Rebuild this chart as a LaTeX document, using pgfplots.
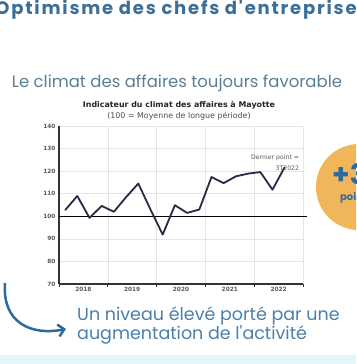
\documentclass[border=0pt]{standalone}
\usepackage{fontspec}
\setmainfont{DejaVu Sans}
\newfontfamily\ral{Poppins}
\newfontfamily\ralw{Poppins}[LetterSpace=10]
\usepackage{pgfplots}
\pgfplotsset{compat=1.18}
\usetikzlibrary{arrows.meta}
\definecolor{titleblue}{HTML}{3C6F98}
\definecolor{subgray}{HTML}{5A7F95}
\definecolor{botblue}{HTML}{4B80A8}
\definecolor{arrowblue}{HTML}{2E6A9A}
\definecolor{orangec}{HTML}{F2B65A}
\definecolor{navy}{HTML}{262B48}
\definecolor{band}{HTML}{E6F7FB}
\definecolor{plusblue}{HTML}{2D6AA3}
\pgfplotstableread{
x y
0.5 102.7
1.5 109
2.5 99.3
3.5 104.6
4.5 102
5.5 108.5
6.5 114.5
7.5 103
8.5 91.9
9.5 104.9
10.5 101.5
11.5 103
12.5 117.4
13.5 114.7
14.5 117.7
15.5 118.9
16.5 119.6
17.5 111.8
18.5 121.8
}\climat
\begin{document}
\begin{tikzpicture}[x=1pt,y=1pt]
\useasboundingbox (0,0) rectangle (356,364);
\clip (0,0) rectangle (356,364);
\fill[white] (0,0) rectangle (356,364);
\fill[band] (0,0) rectangle (356,9);
\fill[orangec] (359,177) circle (43);
\node[text=plusblue, font=\ral\bfseries\fontsize{28}{28}\selectfont, anchor=base west, inner sep=0] at (332,179) {+3};
\node[text=plusblue, font=\ral\bfseries\fontsize{10}{10}\selectfont, anchor=base west, inner sep=0] at (340,163) {points};
\node[text=titleblue, font=\ralw\bfseries\fontsize{18}{18}\selectfont, anchor=base, inner sep=0] at (176,349) {Optimisme des chefs d'entreprise};
\node[text=subgray, font=\ral\fontsize{16.5}{16.5}\selectfont, anchor=base, inner sep=0] at (177,276) {Le climat des affaires toujours favorable};
\node[text=black!85, font=\bfseries\fontsize{7.9}{7.9}\selectfont, anchor=base, inner sep=0] at (179,256) {Indicateur du climat des affaires à Mayotte};
\node[text=black!70, font=\fontsize{7.9}{7.9}\selectfont, anchor=base, inner sep=0] at (179,245) {(100 = Moyenne de longue période)};
\node[text=botblue, font=\ral\fontsize{17.5}{17.5}\selectfont, anchor=base west, inner sep=0] at (77,43) {Un niveau élevé porté par une};
\node[text=botblue, font=\ral\fontsize{17.5}{17.5}\selectfont, anchor=base west, inner sep=0] at (77,24) {augmentation de l'activité};
\draw[arrowblue, line width=2.5, -{Straight Barb[length=6,width=12]}] (5,81) .. controls (2,42) and (30,28) .. (66,35);
\begin{axis}[at={(59pt,80pt)}, anchor=south west, scale only axis,
  width=244pt, height=158pt,
  xmin=0, xmax=20, ymin=70, ymax=140,
  ytick={70,80,...,140},
  xtick={2,6,10,14,18}, xticklabels={2018,2019,2020,2021,2022},
  minor xtick={0,4,8,12,16,20},
  xminorgrids, ymajorgrids,
  grid style={gray!20, line width=0.5pt},
  minor grid style={gray!20, line width=0.5pt},
  axis lines=left, axis line style={-, black!80, line width=1.3pt},
  major tick length=0pt, minor tick length=3pt,
  ytick style={black!80, line width=0.8pt},
  every minor tick/.style={black!80, line width=0.8pt},
  ytick align=center,
  xtick align=outside,
  /pgf/number format/assume math mode=true,
  tick label style={font=\bfseries\fontsize{5.8}{5.8}\selectfont, text=black!65},
  clip=false]
\addplot[black, line width=1.2pt] coordinates {(0,100) (20.3,100)};
\addplot[navy, line width=1.8pt, line join=round] table[x=x,y=y] {\climat};
\node[anchor=base east, inner sep=0, text=black!65, font=\fontsize{6.2}{6.2}\selectfont] at (axis cs:19.7,125.3) {Dernier point =};
\node[anchor=base east, inner sep=0, text=black!65, font=\fontsize{6.2}{6.2}\selectfont] at (axis cs:19.7,120.3) {3T2022};
\end{axis}
\end{tikzpicture}
\end{document}
